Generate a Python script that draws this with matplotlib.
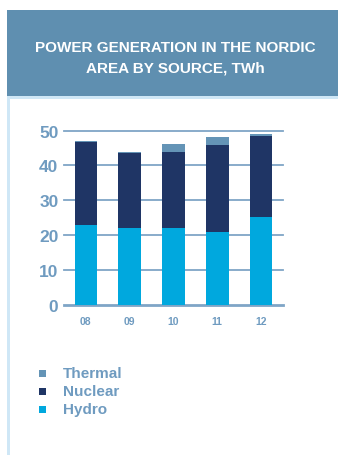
import matplotlib
matplotlib.use("Agg")
import matplotlib.pyplot as plt
from matplotlib.patches import Rectangle

years = ["08", "09", "10", "11", "12"]
hydro = [22.9, 22.1, 22.0, 20.9, 25.3]
nuclear = [23.7, 21.4, 21.9, 24.9, 23.2]
thermal = [0.3, 0.2, 2.3, 2.2, 0.6]
yticks = [0, 10, 20, 30, 40, 50]
title = "POWER GENERATION IN THE NORDIC\nAREA BY SOURCE, TWh"

c_hydro = "#00a8de"
c_nuclear = "#1f3565"
c_thermal = "#6494b6"
c_grid = "#7fa5c6"
c_text = "#6f9bc0"
c_header = "#5f8fb0"

plt.rcParams['font.family'] = ['Liberation Sans', 'DejaVu Sans']

W, H = 338, 456
fig = plt.figure(figsize=(W / 100, H / 100), dpi=100)
fig.patch.set_facecolor("white")

def fx(x):
    return x / W

def fy(y):
    return 1 - y / H

# header box
fig.patches.append(Rectangle((fx(7), fy(97)), fx(338 - 7), 86 / H,
                             transform=fig.transFigure, facecolor=c_header,
                             edgecolor="none", zorder=0))
fig.patches.append(Rectangle((fx(7), fy(100)), fx(338 - 7), 3 / H,
                             transform=fig.transFigure, facecolor="#cfe7f6",
                             edgecolor="none", zorder=0))
fig.patches.append(Rectangle((fx(7), 0), fx(3), fy(97),
                             transform=fig.transFigure, facecolor="#cfe7f6",
                             edgecolor="none", zorder=0))
fig.text(fx(175.5), fy(58), title, ha="center", va="center", color="white",
         fontsize=11, fontweight="bold", linespacing=1.55)

# axes: x 64..283, y 131.5..306
ax = fig.add_axes([fx(64), fy(306), fx(283 - 64), (306 - 131.5) / H])
x = list(range(len(years)))
w = 0.52
ax.bar(x, hydro, w, color=c_hydro, zorder=3, label="Hydro")
ax.bar(x, nuclear, w, bottom=hydro, color=c_nuclear, zorder=3, label="Nuclear")
bot2 = [h + n for h, n in zip(hydro, nuclear)]
ax.bar(x, thermal, w, bottom=bot2, color=c_thermal, zorder=3, label="Thermal")

ax.set_ylim(0, 50)
ax.set_xlim(-0.5, len(years) - 0.5)
ax.set_yticks(yticks)
ax.set_xticks(x)
ax.set_xticklabels(years)
for s in ax.spines.values():
    s.set_visible(False)
for v in yticks:
    ax.axhline(v, color=c_grid, lw=2.0 if v == 0 else 1.3, zorder=1,
               clip_on=False)
ax.tick_params(axis="y", length=0, pad=4, labelsize=12.5, labelcolor=c_text)
ax.tick_params(axis="x", length=0, pad=8, labelsize=7.5, labelcolor=c_text)
for lab in ax.get_yticklabels() + ax.get_xticklabels():
    lab.set_fontweight("bold")
ax.set_facecolor("none")

# legend
items = [("Thermal", c_thermal, 374), ("Nuclear", c_nuclear, 392), ("Hydro", c_hydro, 410)]
for name, col, yy in items:
    fig.patches.append(Rectangle((fx(39), fy(yy + 3.5)), fx(7), 7 / H,
                                 transform=fig.transFigure, facecolor=col,
                                 edgecolor="none"))
    fig.text(fx(63), fy(yy), name, ha="left", va="center", color=c_text,
             fontsize=11, fontweight="bold")

fig.savefig("out.png", dpi=100)
